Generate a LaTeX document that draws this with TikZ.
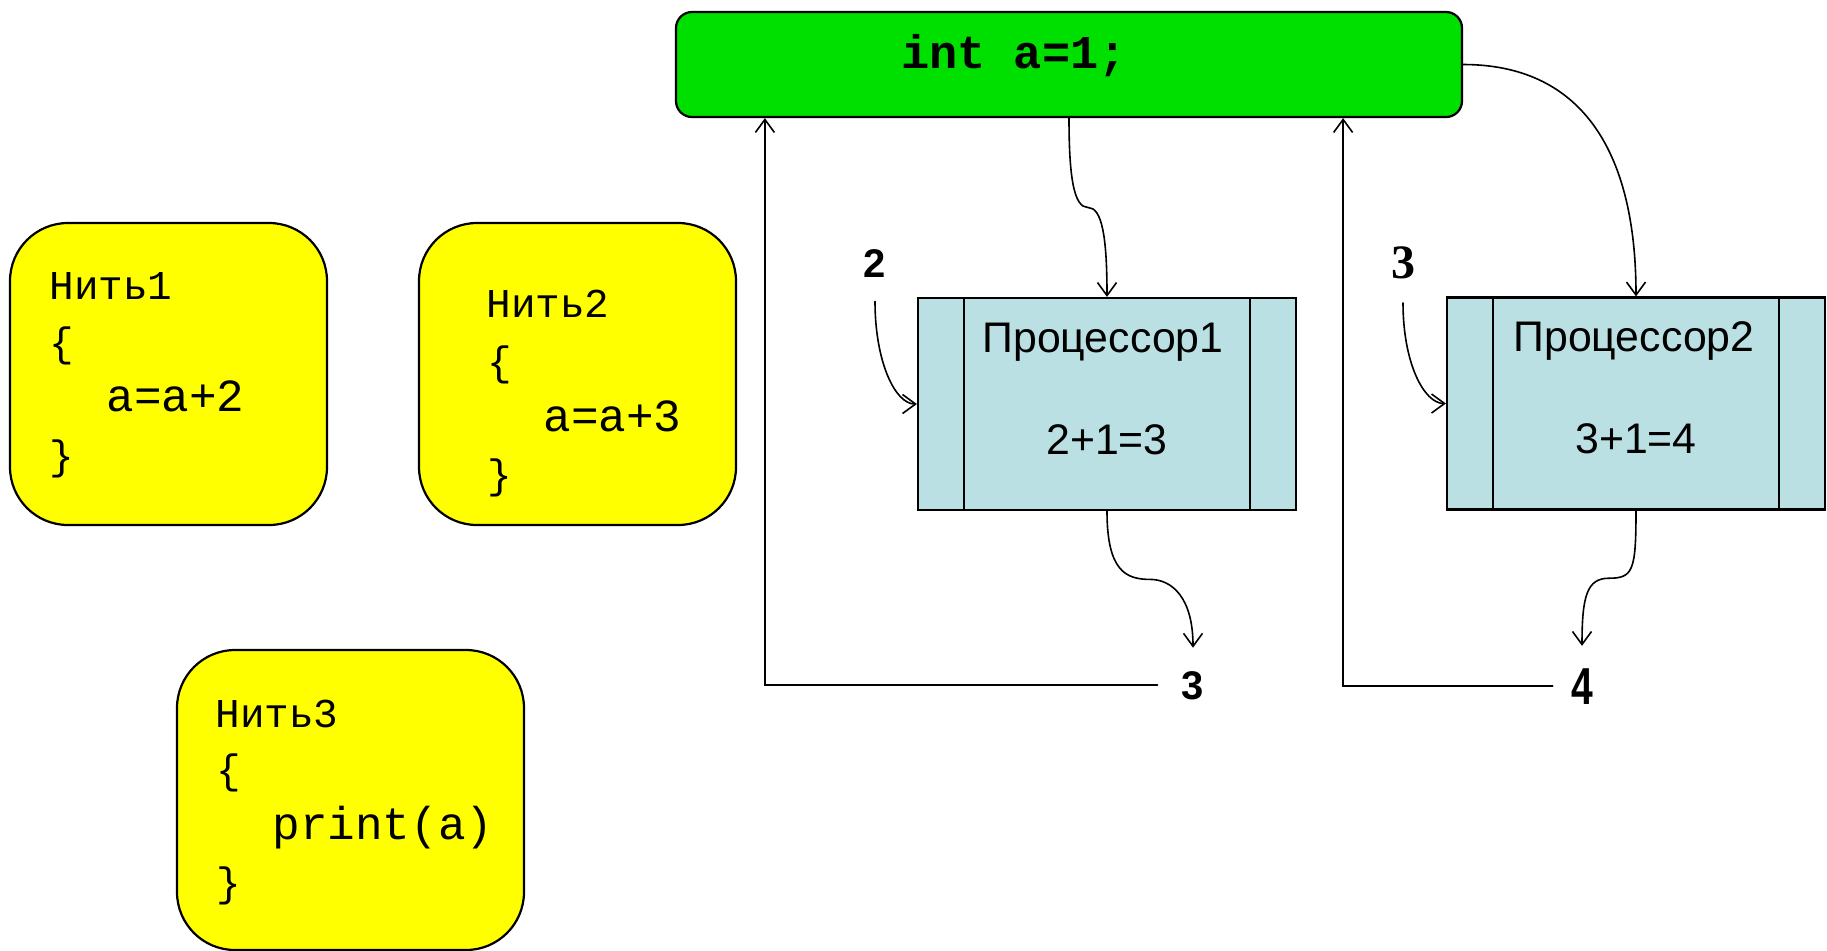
\documentclass[tikz,border=0pt]{standalone}
\usepackage{fontspec}
\setmainfont{Liberation Sans}
\setmonofont{Liberation Mono}
\newfontfamily\serifbf{Liberation Serif}
\usetikzlibrary{arrows.meta,calc}
\definecolor{grn}{RGB}{0,224,0}
\definecolor{yel}{RGB}{255,255,0}
\definecolor{procblue}{RGB}{186,224,228}
\tikzset{
  conn/.style={draw, line width=0.8pt, line cap=round,
    -{Straight Barb[length=6.5pt,width=9.5pt,line width=0.8pt]}},
  thr/.style={draw, line width=1.1pt, fill=yel, rounded corners=29pt,
    minimum width=158.5pt, minimum height=151pt, inner sep=0pt},
  codes/.style={anchor=base west, inner sep=0pt, font=\ttfamily\fontsize{20.5}{24}\selectfont},
  codel/.style={anchor=base west, inner sep=0pt, font=\ttfamily\fontsize{23}{27}\selectfont},
  proc/.style={draw, fill=procblue, line width=1.1pt, minimum width=189pt,
    minimum height=106pt, inner sep=0pt},
  ptxt/.style={anchor=base, inner sep=0pt, font=\fontsize{21.4}{25}\selectfont},
  lbl/.style={anchor=base, inner sep=0pt},
  inner/.style={draw, line width=0.8pt}
}
\begin{document}
\begin{tikzpicture}[x=0.5pt,y=-0.5pt]
\useasboundingbox (0,0) rectangle (1827,950);
\clip (0,0) rectangle (1827,950);

% main variable box
\node[draw, line width=1.1pt, fill=grn, rounded corners=8pt, minimum width=393pt,
  minimum height=52.5pt, inner sep=0pt] (main) at (1069,64.5) {};
\node[anchor=base, inner sep=0pt, font=\ttfamily\bfseries\fontsize{23.5}{28}\selectfont]
  (maintext) at (1014,68) {int a=1;};

% threads
\node[thr] (t1) at (168.5,374) {};
\node[codes] (t1a) at (49,299) {Нить1};
\node[codes] (t1b) at (49,356) {\{};
\node[codel] (t1c) at (106,411) {a=a+2};
\node[codes] (t1d) at (49,469) {\}};

\node[thr] (t2) at (577.5,374) {};
\node[codes] (t2a) at (486,317) {Нить2};
\node[codes] (t2b) at (487,375) {\{};
\node[codel] (t2c) at (543,431) {a=a+3};
\node[codes] (t2d) at (487,488) {\}};

\node[thr, minimum width=173.5pt, minimum height=150pt] (t3) at (350.5,800) {};
\node[codes] (t3a) at (215,727) {Нить3};
\node[codes] (t3b) at (216,783) {\{};
\node[codel] (t3c) at (272,839) {print(a)};
\node[codes] (t3d) at (216,896) {\}};

% processors
\node[proc] (p1) at (1107,404) {};
\draw[inner] ([xshift=23.5pt]p1.north west) -- ([xshift=23.5pt]p1.south west);
\draw[inner] ([xshift=-23.5pt]p1.north east) -- ([xshift=-23.5pt]p1.south east);
\node[ptxt] (p1a) at (1103,352) {Процессор1};
\node[ptxt] (p1b) at (1107,454) {2+1=3};

\node[proc] (p2) at (1636,403.5) {};
\draw[inner] ([xshift=23.5pt]p2.north west) -- ([xshift=23.5pt]p2.south west);
\draw[inner] ([xshift=-23.5pt]p2.north east) -- ([xshift=-23.5pt]p2.south east);
\node[ptxt] (p2a) at (1634,351) {Процессор2};
\node[ptxt] (p2b) at (1636,453) {3+1=4};

% labels
\node[lbl, font=\bfseries\fontsize{20}{24}\selectfont] (l2) at (875,277) {2};
\node[lbl, font=\serifbf\bfseries\fontsize{24}{28}\selectfont] (l3t) at (1403,278) {3};
\node[lbl, font=\bfseries\fontsize{20}{24}\selectfont] (l3b) at (1193,699) {3};
\node[lbl, font=\bfseries\fontsize{26}{30}\selectfont] (l4) at (1582,704) {\scalebox{0.75}[1]{4}};

% connectors
\draw[conn] (main.south) .. controls +(0,60) and +(-14,0) ..
  ($(main.south)!0.5!(p1.north)$) .. controls +(14,0) and +(0,-60) .. (p1.north);
\draw[conn] (main.east) .. controls +(115,0) and +(0,-150) .. (p2.north);
\draw[conn] ([yshift=-12pt]l2.south) .. controls +(0,60) and +(-22,0) .. (p1.west);
\draw[conn] ([yshift=-12pt]l3t.south) .. controls +(0,60) and +(-22,0) .. (p2.west);
\draw[conn] (p1.south) .. controls +(0,60) and +(-24,0) ..
  ($(p1.south)!0.5!([yshift=11.5pt]l3b.north)$) .. controls +(22,0) and +(0,-50) .. ([yshift=11.5pt]l3b.north);
\draw[conn] (p2.south) .. controls +(0,60) and +(24,0) ..
  ($(p2.south)!0.5!([yshift=11pt]l4.north)$) .. controls +(-22,0) and +(0,-50) .. ([yshift=11pt]l4.north);
\draw[conn] ([xshift=-12pt]l3b.west) -| ($(main.south west)+(90,0)$);
\draw[conn] ([xshift=-9pt]l4.west) -| ($(main.south east)+(-120,0)$);
\end{tikzpicture}
\end{document}
